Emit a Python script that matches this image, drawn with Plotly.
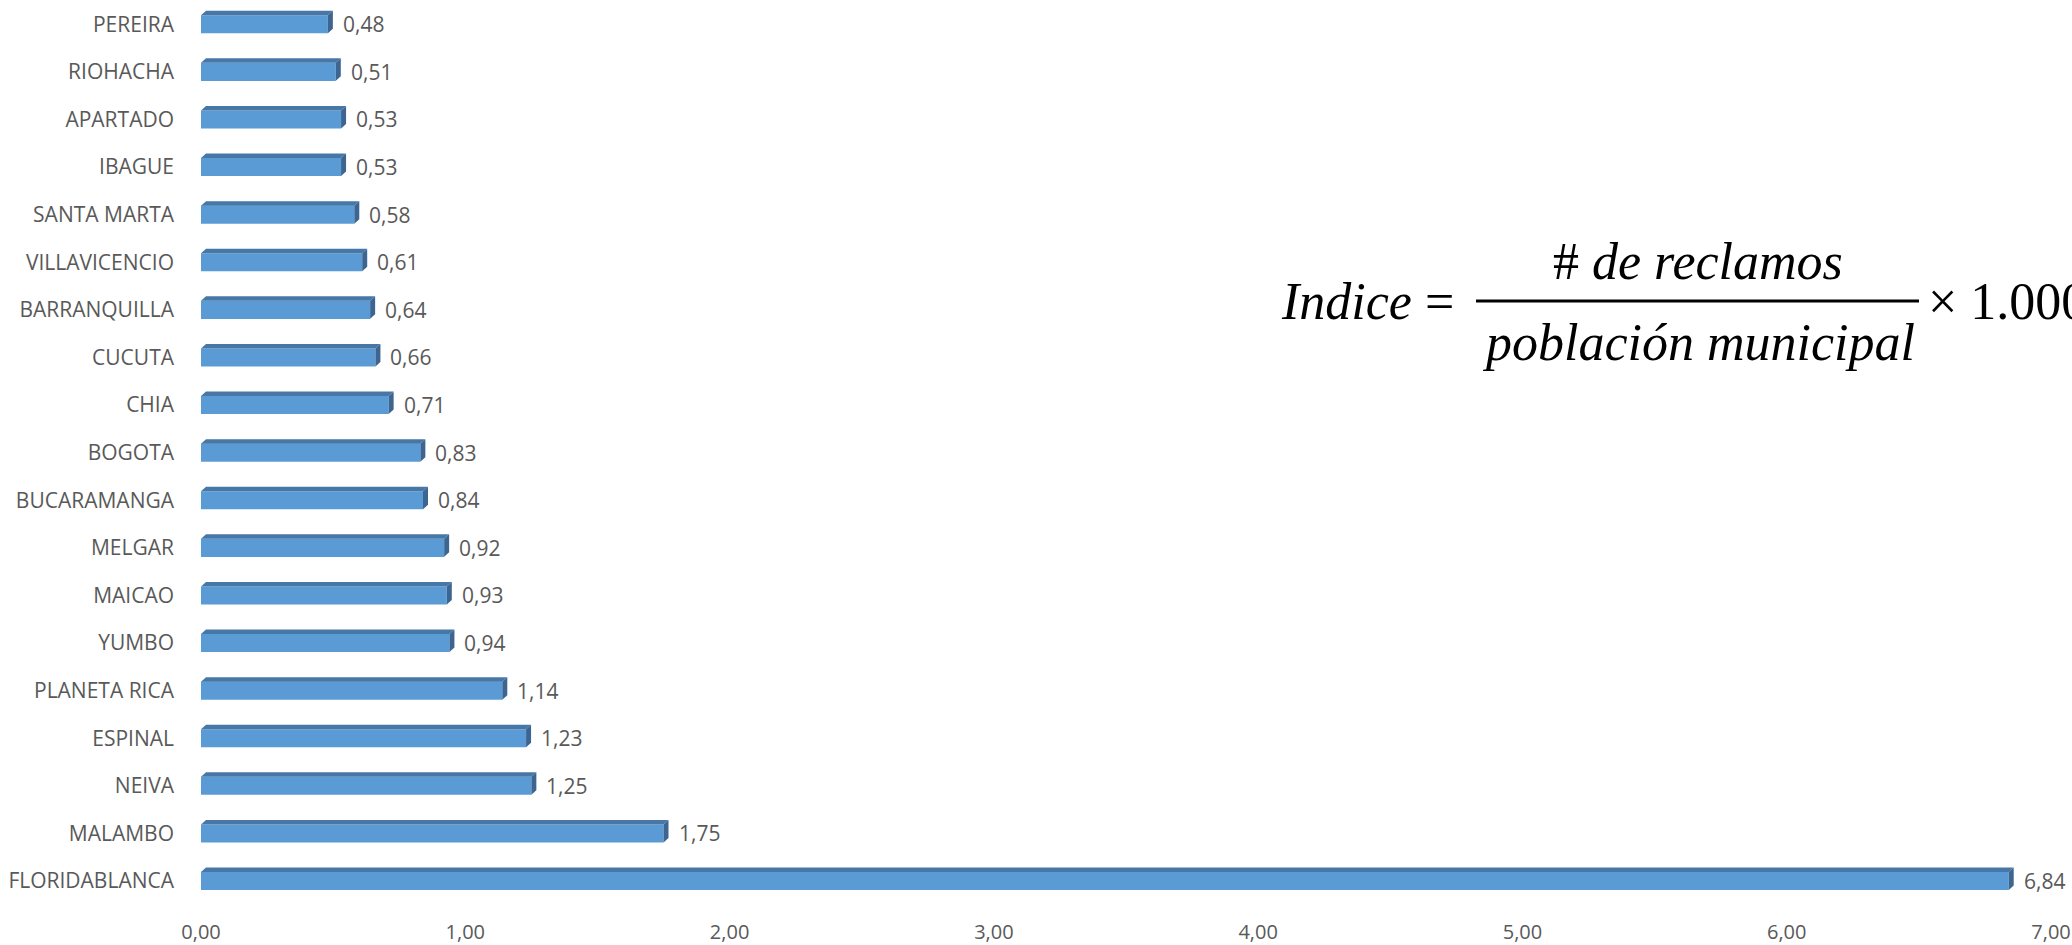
import plotly.graph_objects as go

cities = ["FLORIDABLANCA", "MALAMBO", "NEIVA", "ESPINAL", "PLANETA RICA", "YUMBO",
          "MAICAO", "MELGAR", "BUCARAMANGA", "BOGOTA", "CHIA", "CUCUTA",
          "BARRANQUILLA", "VILLAVICENCIO", "SANTA MARTA", "IBAGUE", "APARTADO",
          "RIOHACHA", "PEREIRA"]
values = [6.84, 1.75, 1.25, 1.23, 1.14, 0.94, 0.93, 0.92, 0.84, 0.83, 0.71, 0.66,
          0.64, 0.61, 0.58, 0.53, 0.53, 0.51, 0.48]
x_ticks = [0, 1, 2, 3, 4, 5, 6, 7]

W, H = 2072, 945
ML, MR, MT, MB = 201, 21, 0, 27
plot_w = W - ML - MR
plot_h = H - MT - MB
XMAX = 7.0

FRONT = "#5B9BD5"
TOP = "#4677A6"
SIDE = "#3C6691"
GRAY = "#595959"

fig = go.Figure()
fig.add_trace(go.Bar(
    x=values, y=cities, orientation="h", width=0.38,
    marker=dict(color=FRONT, line=dict(width=0)),
    hoverinfo="x+y",
))

# 3D faces (depth in pixels vertically, data units horizontally)
half = 9.0
depth_y = 4.5
dx = 5.0 * XMAX / plot_w
shapes = []
for i, v in enumerate(values):
    top_path = f"M 0,{half} L {v},{half} L {v+dx},{half+depth_y} L {dx},{half+depth_y} Z"
    side_path = f"M {v},{half} L {v+dx},{half+depth_y} L {v+dx},{-half+depth_y} L {v},{-half} Z"
    for p, c in ((top_path, TOP), (side_path, SIDE)):
        shapes.append(dict(type="path", path=p, xref="x", yref="y",
                           xsizemode="scaled", ysizemode="pixel", yanchor=i,
                           fillcolor=c, line=dict(width=0), layer="above"))

annotations = []
for c, v in zip(cities, values):
    annotations.append(dict(x=v, y=c, xref="x", yref="y", text=f"{v:.2f}".replace(".", ","),
                            showarrow=False, xanchor="left", xshift=13,
                            font=dict(family="Open Sans", size=21, color=GRAY)))

def px_x(p):
    return (p - ML) / plot_w

def px_y(p):
    return (H - MB - p) / plot_h

ffont = dict(family="Liberation Serif", size=52, color="black")
annotations += [
    dict(xref="paper", yref="paper", x=px_x(1279), y=px_y(301), xanchor="left", yanchor="middle",
         text="<i>Indice</i> =", showarrow=False, font=ffont),
    dict(xref="paper", yref="paper", x=px_x(1698), y=px_y(262), xanchor="center", yanchor="middle",
         text="# <i>de reclamos</i>", showarrow=False, font=ffont),
    dict(xref="paper", yref="paper", x=px_x(1698), y=px_y(343), xanchor="center", yanchor="middle",
         text="<i>población municipal</i>", showarrow=False, font=ffont),
    dict(xref="paper", yref="paper", x=px_x(1926), y=px_y(301), xanchor="left", yanchor="middle",
         text="× 1.000", showarrow=False, font=ffont),
]
shapes.append(dict(type="line", xref="paper", yref="paper", x0=px_x(1476), x1=px_x(1919),
                   y0=px_y(301), y1=px_y(301), line=dict(color="black", width=3)))

fig.update_layout(
    width=W, height=H,
    margin=dict(l=ML, r=MR, t=MT, b=MB, pad=0),
    paper_bgcolor="white", plot_bgcolor="white",
    separators=",.",
    showlegend=False,
    shapes=shapes,
    annotations=annotations,
    xaxis=dict(range=[0, XMAX], tickvals=x_ticks, tickformat=".2f", showgrid=False,
               zeroline=False, showline=False, ticks="",
               tickfont=dict(family="Open Sans", size=20, color=GRAY)),
    yaxis=dict(type="category", categoryorder="array", categoryarray=cities,
               range=[-0.777, 18.51], showgrid=False, zeroline=False, showline=False,
               ticks="", ticklabelstandoff=26,
               tickfont=dict(family="Open Sans", size=21, color=GRAY)),
)

fig.write_html("out.html")
